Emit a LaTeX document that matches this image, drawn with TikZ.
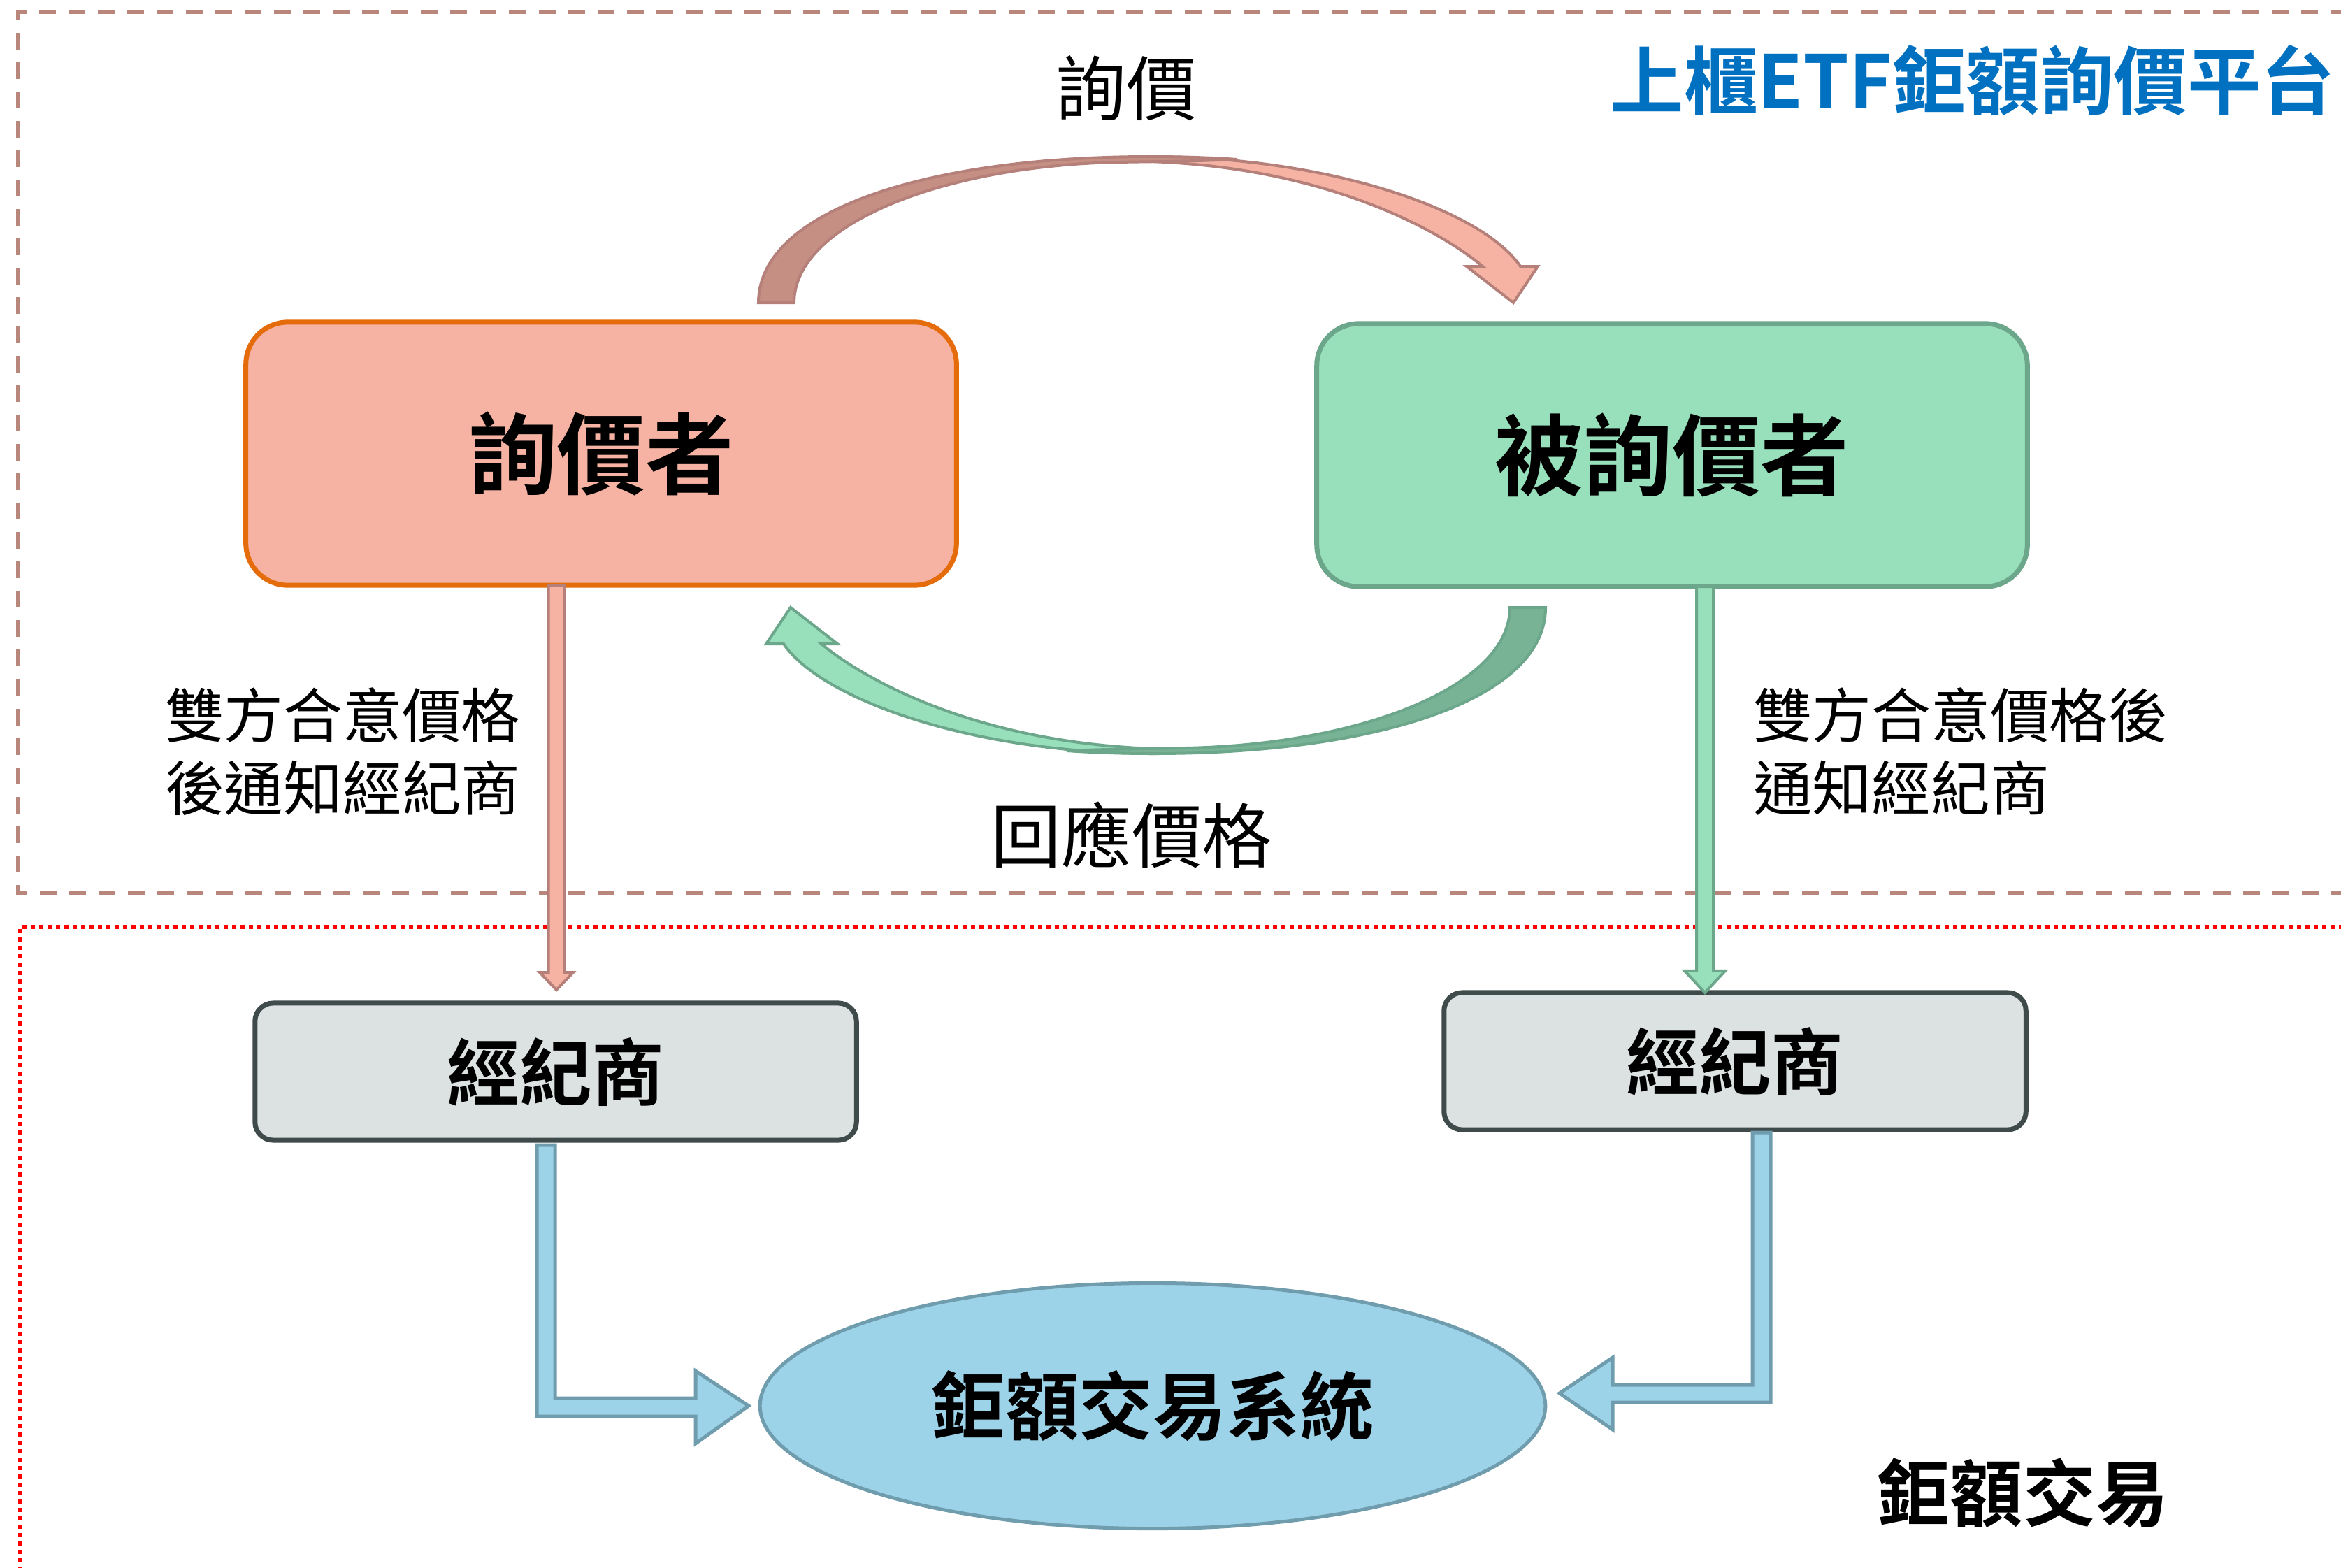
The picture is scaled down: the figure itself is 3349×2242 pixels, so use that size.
\documentclass[tikz,border=0pt]{standalone}
\usepackage{fontspec}
\setmainfont{Noto Sans CJK TC}[BoldFont={Noto Sans CJK TC Bold}]
\usetikzlibrary{calc,shapes.geometric}
\definecolor{salmonfill}{HTML}{F6B3A3}
\definecolor{salmondark}{HTML}{C58F84}
\definecolor{salmonline}{HTML}{B5807A}
\definecolor{orangeline}{HTML}{E46C0A}
\definecolor{mintfill}{HTML}{98E0BC}
\definecolor{mintdark}{HTML}{78B396}
\definecolor{mintline}{HTML}{6DA78B}
\definecolor{brokerfill}{HTML}{DCE2E1}
\definecolor{brokerline}{HTML}{3F4B4A}
\definecolor{sysfill}{HTML}{9DD3E8}
\definecolor{sysline}{HTML}{6F9DAE}
\definecolor{titleblue}{HTML}{0070C0}
\definecolor{dashbrown}{HTML}{B8867A}
\newcommand{\curvedarrowshape}[3]{%
  % light part (near the head)
  \filldraw[fill=#2, draw=#3, line width=0.04cm, line join=miter]
    (1645,224) .. controls (1900,224) and (2120,300) .. (2175,381)
    -- (2200,381) -- (2165,433) -- (2098,381) -- (2121,381)
    .. controls (2060,330) and (1900,240) .. (1645,231) -- cycle;
  % dark part (near the tail)
  \filldraw[fill=#1, draw=#3, line width=0.04cm]
    (1085,433) .. controls (1085,300) and (1330,224) .. (1645,224)
    .. controls (1700,224) and (1740,226) .. (1770,228)
    .. controls (1700,231) and (1650,231) .. (1600,232)
    .. controls (1350,237) and (1136,320) .. (1136,433) -- cycle;
}
\begin{document}
\begin{tikzpicture}[x=0.01cm,y=-0.01cm,
  every node/.style={inner sep=0pt, outer sep=0pt},
  bigbox/.style={rounded corners=0.6cm, minimum width=10.16cm, minimum height=3.76cm,
    line width=0.07cm, font=\fontsize{36}{40}\selectfont\bfseries},
  brokerbox/.style={draw=brokerline, fill=brokerfill, rounded corners=0.26cm,
    line width=0.07cm, minimum height=1.96cm, font=\fontsize{29.5}{33}\selectfont\bfseries},
  labeltext/.style={font=\fontsize{28.6}{33}\selectfont},
  sidetext/.style={align=left, font=\fontsize{24.1}{29.6}\selectfont},
  thinarrow/.style={line width=0.04cm, line join=miter},
  blockarrow/.style={fill=sysfill, draw=sysline, line width=0.05cm, line join=miter}
]
\useasboundingbox (0,0) rectangle (3349,2242);
\clip (0,0) rectangle (3349,2242);

% regions
\draw[dashbrown, line width=0.06cm, dash pattern=on 0.24cm off 0.18cm]
  (3400,17) -- (26,17) -- (26,1277) -- (3400,1277);
\draw[red, line width=0.06cm, dash pattern=on 0.06cm off 0.06cm]
  (3400,1326) -- (29,1326) -- (29,2300);

% main boxes
\node[bigbox, draw=orangeline, fill=salmonfill] (qj) at (860,649) {詢價者};
\node[bigbox, draw=mintline, fill=mintfill] (bqj) at (2392,651) {被詢價者};

% curved arrows
\curvedarrowshape{salmondark}{salmonfill}{salmonline}
\begin{scope}[rotate around={180:(1648,651)}]
\curvedarrowshape{mintdark}{mintfill}{mintline}
\end{scope}

% broker boxes
\node[brokerbox, minimum width=8.6cm] (bkL) at (795,1533) {經紀商};
\node[brokerbox, minimum width=8.32cm] (bkR) at (2482,1518) {經紀商};

% system ellipse
\node[ellipse, draw=sysline, fill=sysfill, line width=0.05cm,
  minimum width=11.23cm, minimum height=3.51cm,
  font=\fontsize{30}{34}\selectfont\bfseries] (sys) at (1649,2011) {鉅額交易系統};

% thin vertical arrows
\coordinate (la) at ($(qj.south)+(-64,0)$);
\coordinate (lt) at (796,1416);
\filldraw[thinarrow, fill=salmonfill, draw=salmonline]
  ($(la)+(-11.5,0)$) -- ($(la)+(11.5,0)$) -- ($(lt)+(11.5,-25)$) -- ($(lt)+(24,-25)$)
  -- (lt) -- ($(lt)+(-24,-25)$) -- ($(lt)+(-11.5,-25)$) -- cycle;
\coordinate (ra) at ($(bqj.south)+(47,0)$);
\coordinate (rt) at (bkR.north -| ra);
\filldraw[thinarrow, fill=mintfill, draw=mintline]
  ($(ra)+(-12,0)$) -- ($(ra)+(12,0)$) -- ($(rt)+(12,-31)$) -- ($(rt)+(29,-31)$)
  -- (rt) -- ($(rt)+(-29,-31)$) -- ($(rt)+(-12,-31)$) -- cycle;

% blue elbow arrows
\coordinate (bl) at ($(bkL.south)+(0,4)$);
\filldraw[blockarrow]
  (768,1638) -- (794,1638) -- (794,2000) -- (995,2000) -- (995,1961)
  -- (sys.west -| 1071,0) -- (995,2065) -- (995,2026) -- (768,2026) -- cycle;
\filldraw[blockarrow]
  (2533,1620) -- (2533,2006) -- (2307,2006) -- (2307,2045) -- (2231,1993)
  -- (2307,1942) -- (2307,1981) -- (2507,1981) -- (2507,1620) -- cycle;

% labels
\node[labeltext] (lq) at (1611,126) {詢價};
\node[labeltext] (lr) at (1619,1194) {回應價格};
\node[sidetext, anchor=west] (sl) at (236,1075) {雙方合意價格\\後通知經紀商};
\node[sidetext, anchor=west] (sr) at (2508,1075) {雙方合意價格後\\通知經紀商};
\node[anchor=east, text=titleblue, font=\fontsize{30}{34}\selectfont\bfseries] (title) at (3340,115) {上櫃ETF鉅額詢價平台};
\node[font=\fontsize{29.6}{34}\selectfont\bfseries] (blk) at (2894,2136) {鉅額交易};
\end{tikzpicture}
\end{document}
